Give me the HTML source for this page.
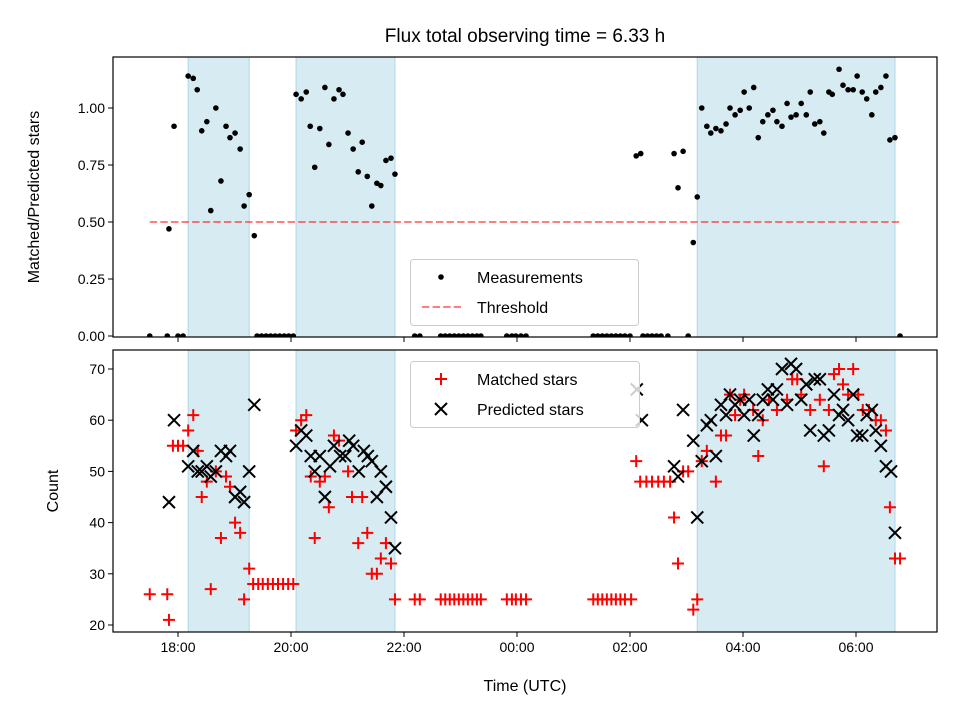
<!DOCTYPE html>
<html><head><meta charset="utf-8"><style>
body{margin:0;background:#fff;}
svg text{font-family:"Liberation Sans","DejaVu Sans",sans-serif;fill:#000;}
</style></head><body>
<svg id="c" width="960" height="720" viewBox="0 0 960 720" xmlns="http://www.w3.org/2000/svg">
<rect width="960" height="720" fill="#fff"/>
<text x="525" y="42" font-size="19" text-anchor="middle">Flux total observing time = 6.33 h</text>
<g id="topPanel"></g>
<g id="botPanel"></g>
</svg>
<script>
// times in hours relative to 18:00
const measT=[-0.50,-0.19,-0.16,-0.07,0,0.09,0.18,0.27,0.34,0.42,0.51,0.58,0.67,0.76,0.85,0.92,1.01,1.10,1.17,1.26,1.35,1.40,1.48,1.56,1.64,1.72,1.80,1.88,1.96,2.04,2.09,2.18,2.27,2.34,2.42,2.51,2.60,2.67,2.76,2.85,2.92,3.01,3.10,3.19,3.26,3.35,3.43,3.52,3.59,3.68,3.77,3.84,4.19,4.28,4.65,4.73,4.81,4.89,4.97,5.05,5.13,5.21,5.29,5.36,5.82,5.91,5.98,6.07,6.16,7.35,7.43,7.51,7.59,7.67,7.75,7.83,7.91,8.00,8.11,8.19,8.23,8.31,8.39,8.47,8.55,8.67,8.78,8.85,8.94,9.03,9.12,9.19,9.27,9.36,9.43,9.52,9.61,9.70,9.77,9.86,9.95,10.02,10.11,10.19,10.27,10.35,10.44,10.53,10.60,10.69,10.78,10.85,10.94,11.03,11.12,11.19,11.27,11.36,11.43,11.52,11.58,11.70,11.77,11.86,11.95,12.02,12.11,12.19,12.28,12.35,12.44,12.53,12.60,12.69,12.78];
const measV=[0,0,0.47,0.92,0,0,1.14,1.13,1.08,0.90,0.94,0.55,1.00,0.68,0.92,0.87,0.89,0.82,0.57,0.62,0.44,0,0,0,0,0,0,0,0,0,1.06,1.04,1.07,0.92,0.74,0.91,1.09,0.84,1.04,1.08,1.06,0.89,0.82,0.72,0.85,0.70,0.57,0.67,0.66,0.77,0.78,0.71,0,0,0,0,0,0,0,0,0,0,0,0,0,0,0,0,0,0,0,0,0,0,0,0,0,0,0.79,0.80,0,0,0,0,0,0,0.80,0.65,0.81,0,0.41,0.61,1.00,0.92,0.89,0.91,0.90,0.93,1.00,0.97,0.99,1.07,1.00,1.09,0.87,0.94,0.97,0.99,0.94,0.92,1.02,0.96,0.97,1.02,0.97,1.07,0.93,0.94,0.89,1.07,1.06,1.17,1.10,1.08,1.08,1.14,1.07,1.04,0.97,1.07,1.09,1.14,0.86,0.87,0];
const matchT=[-0.50,-0.19,-0.16,-0.09,0,0.09,0.18,0.27,0.35,0.42,0.51,0.58,0.67,0.76,0.85,0.92,1.01,1.10,1.17,1.26,1.33,1.42,1.50,1.59,1.68,1.77,1.86,1.95,2.04,2.09,2.18,2.27,2.35,2.42,2.51,2.60,2.67,2.76,2.85,3.01,3.08,3.19,3.26,3.35,3.43,3.52,3.59,3.68,3.77,3.84,4.19,4.28,4.65,4.73,4.81,4.89,4.97,5.05,5.13,5.21,5.29,5.36,5.82,5.91,5.98,6.07,6.16,7.35,7.43,7.51,7.59,7.67,7.75,7.83,7.91,8.02,8.11,8.18,8.29,8.39,8.50,8.60,8.71,8.78,8.85,8.94,9.03,9.12,9.19,9.27,9.36,9.52,9.61,9.70,9.77,9.86,9.95,10.02,10.18,10.27,10.35,10.46,10.60,10.78,10.87,10.96,11.03,11.19,11.36,11.43,11.52,11.61,11.70,11.77,11.86,11.95,12.04,12.12,12.23,12.35,12.44,12.53,12.60,12.69,12.78];
const matchV=[26,26,21,55,55,55,58,61,54,45,48,27,50,37,49,47,40,38,25,31,28,28,28,28,28,28,28,28,28,58,60,61,49,37,48,49,43,57,56,50,45,36,45,38,30,30,33,36,32,25,25,25,25,25,25,25,25,25,25,25,25,25,25,25,25,25,25,25,25,25,25,25,25,25,25,25,52,48,48,48,48,48,48,41,32,50,50,23,25,52,54,48,57,57,65,61,64,65,62,53,60,64,62,64,68,68,65,62,64,51,62,69,70,67,65,70,65,62,62,60,60,58,43,33,33];
const predT=[-0.16,-0.07,0.18,0.27,0.35,0.42,0.51,0.58,0.67,0.76,0.85,0.92,1.01,1.10,1.17,1.26,1.35,2.09,2.18,2.27,2.35,2.42,2.51,2.60,2.69,2.76,2.87,2.96,3.03,3.10,3.20,3.29,3.36,3.43,3.52,3.59,3.68,3.77,3.84,8.12,8.21,8.78,8.85,8.94,9.12,9.19,9.27,9.36,9.43,9.52,9.61,9.70,9.77,9.86,9.95,10.02,10.11,10.19,10.27,10.35,10.44,10.53,10.60,10.69,10.78,10.85,10.94,11.03,11.12,11.19,11.27,11.36,11.43,11.52,11.61,11.70,11.77,11.86,11.95,12.02,12.11,12.19,12.28,12.35,12.44,12.53,12.62,12.69];
const predV=[44,60,51,54,50,50,51,49,50,54,53,54,45,46,44,50,63,55,58,57,53,50,53,45,51,55,53,53,56,55,50,54,53,52,45,50,47,41,35,66,60,51,49,62,56,41,52,59,60,53,63,61,65,63,64,61,64,57,61,64,66,64,66,70,63,71,70,64,67,58,68,68,57,58,65,61,62,60,65,57,57,61,62,58,55,51,50,38];
const spanStart=[0.18,2.09,9.19];
const spanEnd=[1.26,3.84,12.69];
const xTickVals=[0,2,4,6,8,10,12];
const xTickLabels=["18:00","20:00","22:00","00:00","02:00","04:00","06:00"];
const topTicks=[0,0.25,0.5,0.75,1.0];
const botTicks=[20,30,40,50,60,70];
const threshold=0.5, thrStart=-0.5, thrEnd=12.78;

const NS="http://www.w3.org/2000/svg";
const L=113,R=937;
const X=t=>178+t*56.5;
const Yt=v=>336-v*228;
const Yb=v=>369+(70-v)*5.12;
function mk(p,tag,at){const e=document.createElementNS(NS,tag);for(const k in at)e.setAttribute(k,at[k]);p.appendChild(e);return e;}
const gTop=document.getElementById('topPanel'),gBot=document.getElementById('botPanel');
function panel(g,y0,y1,name){
  const cp=mk(g,'clipPath',{id:'cp'+name});mk(cp,'rect',{x:L,y:y0,width:R-L,height:y1-y0});
  for(let i=0;i<spanStart.length;i++){
    const r=mk(g,'rect',{x:X(spanStart[i]),y:y0,width:X(spanEnd[i])-X(spanStart[i]),height:y1-y0,fill:'#add8e6','fill-opacity':0.5,stroke:'#add8e6','stroke-width':1});
    
    
  }
}
panel(gTop,57,337,'top');panel(gBot,350,632,'bottom');
const th=mk(gTop,'line',{x1:X(thrStart),x2:X(thrEnd),y1:Yt(threshold),y2:Yt(threshold),stroke:'#ff0000','stroke-opacity':0.5,'stroke-width':2,'stroke-dasharray':'7.4,3.2'});


const mg=mk(gTop,'g',{'clip-path':'url(#cptop)'});
for(let i=0;i<measT.length;i++){
  const c=mk(mg,'circle',{cx:X(measT[i]),cy:Yt(measV[i]),r:2.8,fill:'#000'});
  
  
}
for(let i=0;i<matchT.length;i++){
  const x=X(matchT[i]),y=Yb(matchV[i]);
  const p=mk(gBot,'path',{d:`M${x-6},${y}H${x+6}M${x},${y-6}V${y+6}`,stroke:'#ff0000','stroke-width':2});
  
  
}
for(let i=0;i<predT.length;i++){
  const x=X(predT[i]),y=Yb(predV[i]);
  const p=mk(gBot,'path',{d:`M${x-6},${y-6}L${x+6},${y+6}M${x-6},${y+6}L${x+6},${y-6}`,stroke:'#000','stroke-width':2});
  
  
}
function frame(g,y0,y1,name){
  const f=mk(g,'rect',{x:L,y:y0,width:R-L,height:y1-y0,fill:'none',stroke:'#000','stroke-width':1.2});
  
  
  xTickVals.forEach((t,i)=>{mk(g,'line',{x1:X(t),x2:X(t),y1:y1,y2:y1+5,stroke:'#000','stroke-width':1});});
}
frame(gTop,57,337,'top');frame(gBot,350,632,'bottom');
xTickLabels.forEach((s,i)=>{
  const t=mk(gBot,'text',{x:X(xTickVals[i]),y:652,'font-size':14,'text-anchor':'middle'});t.textContent=s;
  
  
});
topTicks.forEach(v=>{
  mk(gTop,'line',{x1:L-5,x2:L,y1:Yt(v),y2:Yt(v),stroke:'#000'});
  const t=mk(gTop,'text',{x:L-8,y:Yt(v)+5,'font-size':14,'text-anchor':'end'});t.textContent=v.toFixed(2);
  
  
});
botTicks.forEach(v=>{
  mk(gBot,'line',{x1:L-5,x2:L,y1:Yb(v),y2:Yb(v),stroke:'#000'});
  const t=mk(gBot,'text',{x:L-8,y:Yb(v)+5,'font-size':14,'text-anchor':'end'});t.textContent=v;
  
  
});
</script>
<svg style="position:absolute;left:0;top:0" width="960" height="720">
<text x="525" y="691" font-size="16" text-anchor="middle">Time (UTC)</text>
<text transform="translate(39,197) rotate(-90)" font-size="16" text-anchor="middle">Matched/Predicted stars</text>
<text transform="translate(58,491) rotate(-90)" font-size="16" text-anchor="middle">Count</text>
<g>
<rect x="410.5" y="259.5" width="228" height="66" rx="3" fill="#fff" fill-opacity="0.8" stroke="#ccc"/>
<circle cx="441" cy="277" r="2.8" fill="#000"/>
<text x="477" y="283" font-size="16">Measurements</text>
<line x1="422" x2="461" y1="307" y2="307" stroke="#ff0000" stroke-opacity="0.5" stroke-width="2" stroke-dasharray="7.4,3.2"/>
<text x="477" y="313" font-size="16">Threshold</text>
</g>
<g>
<rect x="410.5" y="361.5" width="229" height="66" rx="3" fill="#fff" fill-opacity="0.8" stroke="#ccc"/>
<path d="M435,379H447M441,373V385" stroke="#ff0000" stroke-width="2"/>
<text x="477" y="385" font-size="16">Matched stars</text>
<path d="M435,403L447,415M435,415L447,403" stroke="#000" stroke-width="2"/>
<text x="477" y="415" font-size="16">Predicted stars</text>
</g>
</svg>
</body></html>
